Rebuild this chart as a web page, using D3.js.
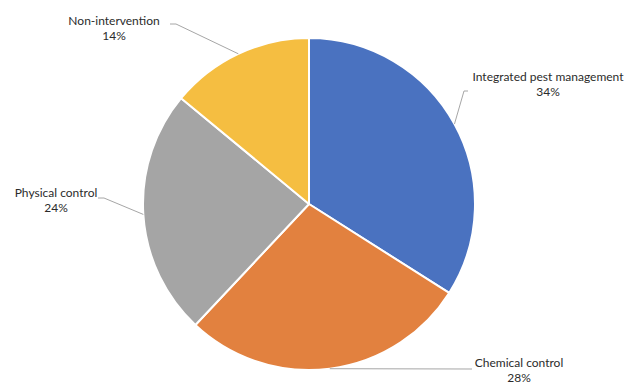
<!DOCTYPE html>
<html>
<head>
<meta charset="utf-8">
<script src="https://cdn.jsdelivr.net/npm/d3@7"></script>
<style>
  html, body { margin: 0; padding: 0; background: #fff; }
  svg { display: block; }
  text { font-family: Lato, "Open Sans", sans-serif; font-size: 12px; fill: #2b2b2b; }
</style>
</head>
<body>
<svg id="chart" width="625" height="385"></svg>
<script>
const categories = ["Integrated pest management", "Chemical control", "Physical control", "Non-intervention"];
const values = [34, 28, 24, 14];
const colors = ["#4A72C0", "#E2813F", "#A5A5A5", "#F5BE41"];

const width = 625, height = 385;
const cx = 309, cy = 204, r = 166;

const svg = d3.select("#chart");
const g = svg.append("g").attr("transform", `translate(${cx},${cy})`);

const data = categories.map((c, i) => ({ name: c, value: values[i], color: colors[i] }));
const pie = d3.pie().value(d => d.value).sort(null);
const arcs = pie(data);
const arc = d3.arc().innerRadius(0).outerRadius(r);

g.selectAll("path.slice")
  .data(arcs)
  .enter().append("path")
  .attr("class", "slice")
  .attr("d", arc)
  .attr("fill", d => d.data.color)
  .attr("stroke", "#fff")
  .attr("stroke-width", 2)
  .attr("stroke-linejoin", "round");

// label placement (layout only)
const labelLayout = [
  { tx: 548, ty: 81, bend: [464, 91], end: [468, 91] },
  { tx: 519, ty: 367, bend: [472, 369], end: [472, 369] },
  { tx: 56, ty: 197, bend: [104, 198], end: [98, 198] },
  { tx: 114, ty: 25, bend: [176, 24], end: [170, 24] }
];

arcs.forEach((a, i) => {
  const mid = (a.startAngle + a.endAngle) / 2;
  const ex = cx + r * Math.sin(mid);
  const ey = cy - r * Math.cos(mid);
  const L = labelLayout[i];
  svg.append("polyline")
    .attr("points", [[ex, ey], L.bend, L.end].map(p => p.join(",")).join(" "))
    .attr("fill", "none")
    .attr("stroke", "#A6A6A6")
    .attr("stroke-width", 1);
  const t = svg.append("text").attr("text-anchor", "middle");
  t.append("tspan").attr("x", L.tx).attr("y", L.ty).text(a.data.name);
  t.append("tspan").attr("x", L.tx).attr("y", L.ty + 15).text(a.data.value + "%");
});
</script>
</body>
</html>
